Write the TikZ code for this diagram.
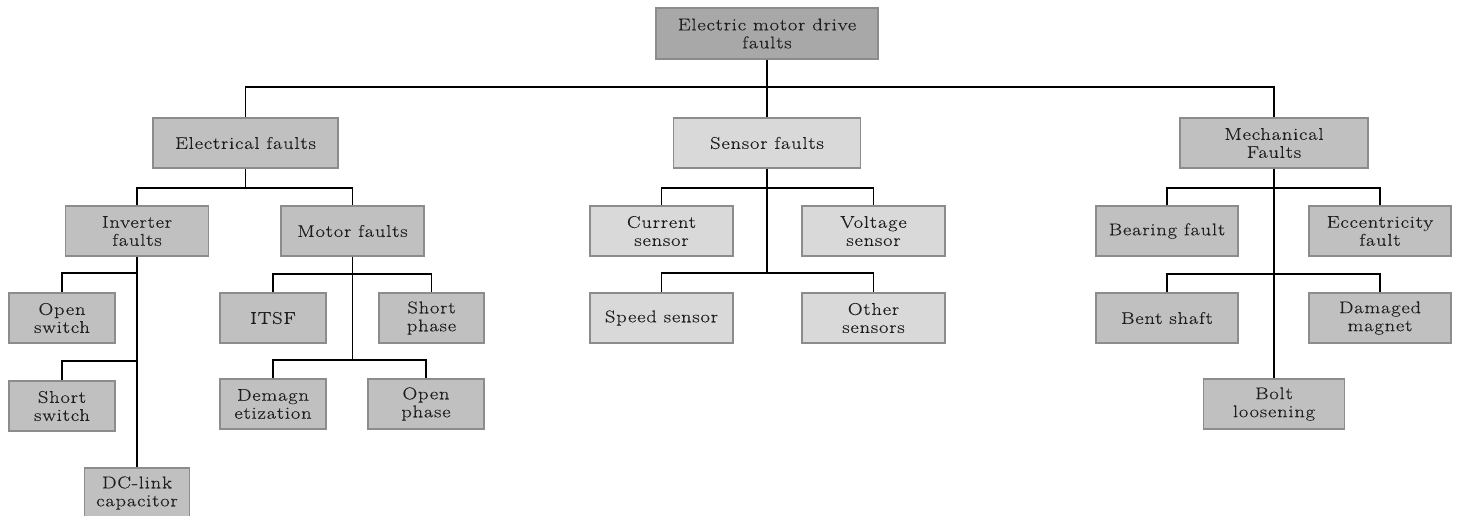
\documentclass[tikz,border=0pt]{standalone}
\usepackage{fontspec}
\newfontfamily\boxfont{Latin Modern Roman}[FakeStretch=1.2,LetterSpace=5,FakeBold=0.3]
\usetikzlibrary{positioning}
\definecolor{rootfill}{RGB}{168,168,168}
\definecolor{midfill}{RGB}{192,192,192}
\definecolor{lightfill}{RGB}{217,217,217}
\definecolor{boxedge}{RGB}{140,140,140}
\definecolor{boxtext}{RGB}{30,30,30}
\begin{document}
\begin{tikzpicture}[x=1pt,y=-1pt,
  box/.style={draw=boxedge,line width=1.2pt,inner sep=0pt,align=center,
    text=boxtext,minimum height=50pt,font=\boxfont\fontsize{17}{18}\selectfont},
  rootbox/.style={box,fill=rootfill},
  midbox/.style={box,fill=midfill},
  lightbox/.style={box,fill=lightfill},
  link/.style={draw=black,line width=1.3pt}]
\useasboundingbox (0,0) rectangle (1457,516);

% root and first level
\node[rootbox,minimum width=222pt,minimum height=51pt] (root) at (767,33.5) {Electric motor drive\\faults};
\node[midbox,minimum width=185pt] (elec) at (245.5,143) {Electrical faults};
\node[lightbox,minimum width=187pt] (sens) at (767,143) {Sensor faults};
\node[midbox,minimum width=188pt] (mech) at (1274,143) {Mechanical\\Faults};

% electrical faults
\node[midbox,minimum width=143pt] (inv) at (137,231) {Inverter\\faults};
\node[midbox,minimum width=143pt] (motor) at (352.5,231) {Motor faults};
\node[midbox,minimum width=106pt] (open) at (62,318) {Open\\switch};
\node[midbox,minimum width=106pt] (short) at (62,406) {Short\\switch};
\node[midbox,minimum width=105pt] (dc) at (137,493) {DC-link\\capacitor};
\node[midbox,minimum width=106pt] (itsf) at (273,318) {ITSF};
\node[midbox,minimum width=105pt] (shph) at (431.5,318) {Short\\phase};
\node[midbox,minimum width=106pt] (demag) at (273,404) {Demagn\\etization};
\node[midbox,minimum width=116pt] (ophase) at (426,404) {Open\\phase};

% sensor faults
\node[lightbox,minimum width=143pt] (cur) at (661.5,231) {Current\\sensor};
\node[lightbox,minimum width=143pt] (volt) at (873.5,231) {Voltage\\sensor};
\node[lightbox,minimum width=143pt] (speed) at (661.5,318) {Speed sensor};
\node[lightbox,minimum width=143pt] (other) at (873.5,318) {Other\\sensors};

% mechanical faults
\node[midbox,minimum width=142pt] (bear) at (1167,231) {Bearing fault};
\node[midbox,minimum width=142pt] (ecc) at (1380,231) {Eccentricity\\fault};
\node[midbox,minimum width=142pt] (bent) at (1167,318) {Bent shaft};
\node[midbox,minimum width=142pt] (dmag) at (1380,318) {Damaged\\magnet};
\node[midbox,minimum width=141pt] (bolt) at (1274,404) {Bolt\\loosening};

% bus levels
\coordinate (b0) at (767,87);
\coordinate (b1) at (245.5,188);
\coordinate (b2) at (767,188);
\coordinate (b3) at (1274,188);

% root connectors
\draw[link] (root.south) -- (sens.north);
\draw[link] (elec.north) |- (b0) -| (mech.north);

% electrical connectors
\draw[link] (elec.south) -- (b1);
\draw[link] (inv.north) |- (b1) -| (motor.north);
\draw[link] (inv.south) -- (dc.north);
\draw[link] (open.north) |- (inv.south |- 0,273);
\draw[link] (short.north) |- (inv.south |- 0,361);
\draw[link] (motor.south) -- (motor.south |- 0,360);
\draw[link] (itsf.north) |- (motor.south |- 0,274) -| (shph.north);
\draw[link] (demag.north) |- (motor.south |- 0,360) -| (ophase.north);

% sensor connectors
\draw[link] (sens.south) -- (sens.south |- 0,273);
\draw[link] (cur.north) |- (b2) -| (volt.north);
\draw[link] (speed.north) |- (sens.south |- 0,273) -| (other.north);

% mechanical connectors
\draw[link] (mech.south) -- (bolt.north);
\draw[link] (bear.north) |- (b3) -| (ecc.north);
\draw[link] (bent.north) |- (mech.south |- 0,274) -| (dmag.north);
\end{tikzpicture}
\end{document}
